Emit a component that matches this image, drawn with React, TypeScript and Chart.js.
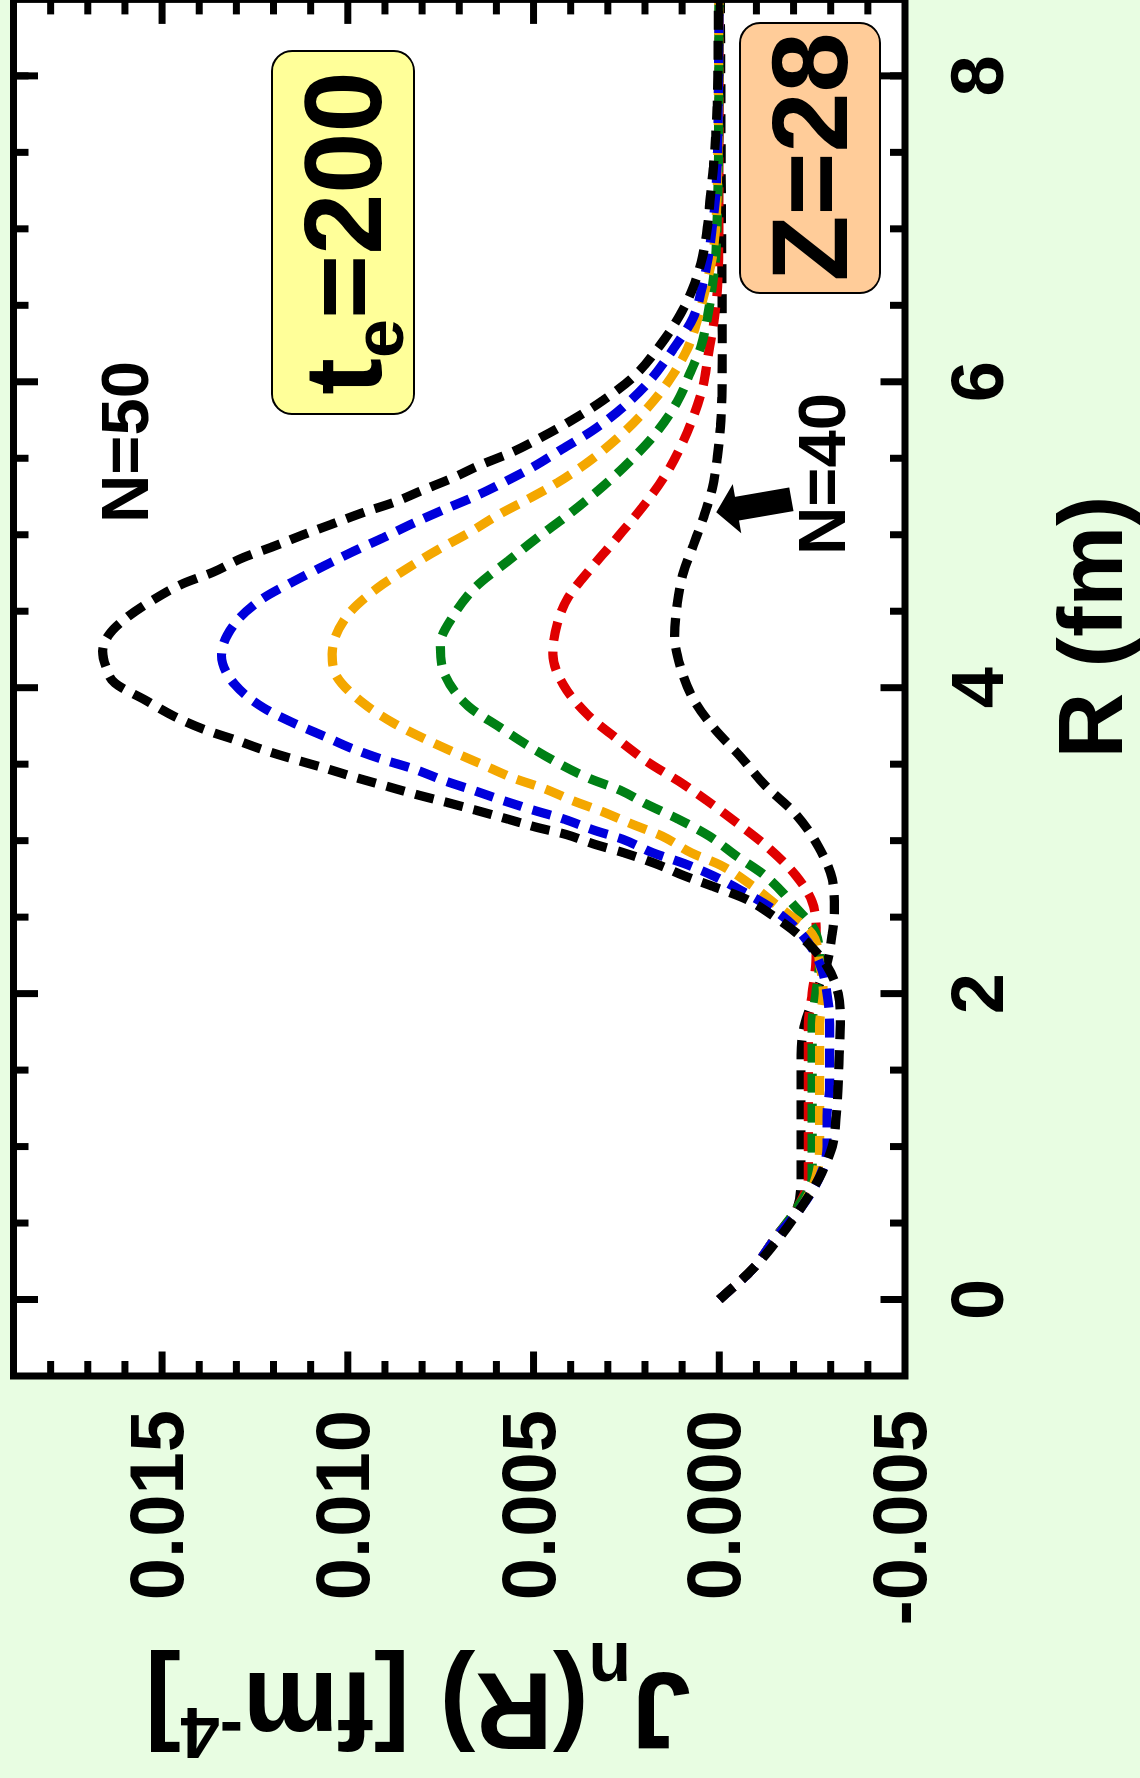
import React, { useEffect, useRef } from "react";
import { Chart, registerables } from "chart.js";

Chart.register(...registerables);

// Unrotated chart canvas (the whole picture is this chart turned 90° counter-clockwise)
const W0 = 1782;
const H0 = 1140;
const PAGE_H = 1778;
const BG = "#e8fde2";
const FONT = "'Liberation Sans', Arial, Helvetica, sans-serif";

// Axis ranges and ticks
const rMin = -0.5;
const rMax = 8.5;
const jMin = -0.005;
const jMax = 0.019;
const rMajorTicks = [0, 2, 4, 6, 8];
const rTickLabels = ["0", "2", "4", "6", "8"];
const rMinorTicks = [0.5, 1, 1.5, 2.5, 3, 3.5, 4.5, 5, 5.5, 6.5, 7, 7.5, 8];
const jMajorTicks = [0.015, 0.01, 0.005, 0.0, -0.005];
const jTickLabels = ["0.015", "0.010", "0.005", "0.000", "-0.005"];
const jMinorTicks = [0.018, 0.017, 0.016, 0.014, 0.013, 0.012, 0.011, 0.009, 0.008, 0.007, 0.006,
  0.004, 0.003, 0.002, 0.001, -0.001, -0.002, -0.003, -0.004];

// Series (N = 50 ... 40)
const seriesLabels = ["N=50", "N=48", "N=46", "N=44", "N=42", "N=40"];
const seriesColors = ["#000000", "#0000dc", "#f4a700", "#008015", "#e00000", "#000000"];

const rN50 = [0, 0.2, 0.4, 0.6, 0.8, 1.0, 1.2, 1.4, 1.6, 1.8, 2.0, 2.18, 2.35, 2.5, 2.62, 2.7, 2.77, 2.85, 2.92, 2.98, 3.04, 3.09, 3.14, 3.2, 3.25, 3.3, 3.355, 3.41, 3.47, 3.53, 3.59, 3.66, 3.72, 3.81, 3.92, 4.03, 4.13, 4.24, 4.34, 4.44, 4.57, 4.68, 4.755, 4.85, 4.92, 5.0, 5.07, 5.15, 5.21, 5.29, 5.37, 5.45, 5.54, 5.64, 5.75, 5.88, 6.03, 6.24, 6.44, 6.62, 6.81, 7.01, 7.21, 7.4, 7.6, 7.8, 8.0, 8.5];
const jN50 = [0, -0.0009, -0.0016, -0.0022, -0.0027, -0.00304, -0.00315, -0.0032, -0.00323, -0.00326, -0.0032, -0.0029, -0.0023, -0.0015, -0.0007, 0.00016, 0.00094, 0.00172, 0.00256, 0.0034, 0.00412, 0.00496, 0.00568, 0.00657, 0.00733, 0.00813, 0.00894, 0.00975, 0.01056, 0.01142, 0.01223, 0.01304, 0.01379, 0.01465, 0.01546, 0.01627, 0.0165, 0.0166, 0.01645, 0.01605, 0.01527, 0.01444, 0.01363, 0.01282, 0.01204, 0.0112, 0.01042, 0.00953, 0.00878, 0.008, 0.00719, 0.00649, 0.00558, 0.00477, 0.00396, 0.00312, 0.00232, 0.00159, 0.00105, 0.0007, 0.00046, 0.00032, 0.00024, 0.00016, 0.0001, 0.00006, 0.00004, 0.00002];

const rN48 = [0, 0.2, 0.4, 0.6, 0.8, 1.0, 1.2, 1.4, 1.6, 1.8, 2.0, 2.2, 2.4, 2.56, 2.67, 2.77, 2.85, 2.92, 3.01, 3.07, 3.14, 3.2, 3.26, 3.33, 3.39, 3.47, 3.53, 3.6, 3.68, 3.77, 3.87, 4.02, 4.21, 4.42, 4.58, 4.69, 4.79, 4.89, 4.98, 5.075, 5.16, 5.245, 5.34, 5.44, 5.56, 5.68, 5.83, 6.01, 6.21, 6.42, 6.62, 6.81, 7.01, 7.21, 7.5, 8.0, 8.5];
const jN48 = [0, -0.0009, -0.0015, -0.0022, -0.0027, -0.0029, -0.0029, -0.00297, -0.00297, -0.00297, -0.0029, -0.0027, -0.00218, -0.0014, -0.00062, 0.00016, 0.00094, 0.00178, 0.00261, 0.00339, 0.00417, 0.00501, 0.00579, 0.00663, 0.00738, 0.00824, 0.00905, 0.00986, 0.01061, 0.01147, 0.01228, 0.01304, 0.0134, 0.01304, 0.01231, 0.0115, 0.01069, 0.00986, 0.00905, 0.00824, 0.00746, 0.00663, 0.00582, 0.00504, 0.00423, 0.00342, 0.00261, 0.00186, 0.00125, 0.0007, 0.00046, 0.0003, 0.00019, 0.0001, 0.00005, 0.00002, 0.00001];

const rN46 = [0, 0.2, 0.4, 0.6, 0.8, 1.0, 1.2, 1.4, 1.6, 1.8, 2.0, 2.2, 2.39, 2.56, 2.71, 2.84, 2.92, 3.03, 3.11, 3.19, 3.26, 3.34, 3.41, 3.5, 3.58, 3.67, 3.77, 3.9, 4.07, 4.22, 4.47, 4.65, 4.78, 4.9, 5.01, 5.13, 5.23, 5.34, 5.47, 5.63, 5.81, 6.02, 6.22, 6.42, 6.6, 6.81, 7.0, 7.3, 8.0, 8.5];
const jN46 = [0, -0.0009, -0.0015, -0.0022, -0.0026, -0.0027, -0.0027, -0.0027, -0.0027, -0.0027, -0.0028, -0.0027, -0.0025, -0.00164, -0.00086, -0.00003, 0.00075, 0.00154, 0.00237, 0.00315, 0.00393, 0.00471, 0.00555, 0.0064, 0.00716, 0.00797, 0.00878, 0.00959, 0.01029, 0.01042, 0.01002, 0.00921, 0.0084, 0.00759, 0.00676, 0.00595, 0.00517, 0.00436, 0.00356, 0.00275, 0.002, 0.00132, 0.00085, 0.00057, 0.00038, 0.00019, 0.0001, 0.00005, 0.00002, 0.00001];

const rN44 = [0, 0.2, 0.4, 0.6, 0.8, 1.0, 1.2, 1.4, 1.6, 1.8, 2.0, 2.2, 2.39, 2.58, 2.77, 2.9, 3.03, 3.14, 3.24, 3.33, 3.41, 3.51, 3.62, 3.74, 3.88, 4.08, 4.28, 4.47, 4.66, 4.83, 4.98, 5.13, 5.29, 5.47, 5.66, 5.87, 6.06, 6.24, 6.42, 6.62, 6.81, 7.1, 7.5, 8.5];
const jN44 = [0, -0.0009, -0.0015, -0.0021, -0.0025, -0.0025, -0.0025, -0.0025, -0.0025, -0.0025, -0.0026, -0.0027, -0.00261, -0.002, -0.00124, -0.00046, 0.00027, 0.0011, 0.00197, 0.00267, 0.00353, 0.00436, 0.00514, 0.0059, 0.00676, 0.00738, 0.00751, 0.00716, 0.00655, 0.00568, 0.0049, 0.00407, 0.00326, 0.00245, 0.00172, 0.00113, 0.00078, 0.00048, 0.00032, 0.00019, 0.0001, 0.00005, 0.00002, 0.00001];

const rN42 = [0, 0.2, 0.4, 0.6, 0.8, 1.0, 1.2, 1.4, 1.6, 1.8, 2.0, 2.2, 2.39, 2.6, 2.77, 2.96, 3.11, 3.26, 3.39, 3.51, 3.66, 3.82, 4.02, 4.22, 4.42, 4.59, 4.79, 4.98, 5.18, 5.39, 5.57, 5.77, 5.96, 6.17, 6.37, 6.58, 6.8, 7.2, 8.5];
const jN42 = [0, -0.0009, -0.0015, -0.0021, -0.0024, -0.0024, -0.0024, -0.0024, -0.0024, -0.0024, -0.0025, -0.0026, -0.00261, -0.0025, -0.00207, -0.00129, -0.00051, 0.00032, 0.0011, 0.0019, 0.00272, 0.00353, 0.0042, 0.00448, 0.00436, 0.00407, 0.00342, 0.00275, 0.00207, 0.00145, 0.00105, 0.0007, 0.00045, 0.0003, 0.00016, 0.00006, 0.00002, 0.00001, 0];

const rN40 = [0, 0.2, 0.4, 0.6, 0.8, 1.0, 1.2, 1.4, 1.6, 1.8, 2.0, 2.2, 2.39, 2.55, 2.75, 2.96, 3.17, 3.36, 3.55, 3.74, 3.94, 4.14, 4.34, 4.55, 4.75, 4.93, 5.11, 5.3, 5.51, 5.7, 5.9, 6.3, 7.0, 8.0, 8.5];
const jN40 = [0, -0.0009, -0.0015, -0.0021, -0.0022, -0.0022, -0.0022, -0.0022, -0.0022, -0.0023, -0.0026, -0.0029, -0.00304, -0.0031, -0.00304, -0.00267, -0.00207, -0.00124, -0.00057, 0.00016, 0.00073, 0.00105, 0.0012, 0.00113, 0.00097, 0.0007, 0.00043, 0.00019, 0.00005, -0.00003, -0.00007, -0.00008, -0.00006, -0.00004, -0.00003];

const seriesR = [rN50, rN48, rN46, rN44, rN42, rN40];
const seriesJ = [jN50, jN48, jN46, jN44, jN42, jN40];

// Arrow pointing at the N=40 curve (data coordinates: R, J)
const arrowTail = [5.232, -0.00194];
const arrowTip = [5.147, 0.00008];

function roundRect(ctx: CanvasRenderingContext2D, x: number, y: number, w: number, h: number, r: number) {
  ctx.beginPath();
  ctx.moveTo(x + r, y);
  ctx.lineTo(x + w - r, y);
  ctx.arcTo(x + w, y, x + w, y + r, r);
  ctx.lineTo(x + w, y + h - r);
  ctx.arcTo(x + w, y + h, x + w - r, y + h, r);
  ctx.lineTo(x + r, y + h);
  ctx.arcTo(x, y + h, x, y + h - r, r);
  ctx.lineTo(x, y + r);
  ctx.arcTo(x, y, x + r, y, r);
  ctx.closePath();
}

type Run = { t: string; s: number; dy: number };

function runsWidth(ctx: CanvasRenderingContext2D, runs: Run[]) {
  let w = 0;
  for (const r of runs) {
    ctx.font = `bold ${r.s}px ${FONT}`;
    w += ctx.measureText(r.t).width;
  }
  return w;
}

function drawRuns(ctx: CanvasRenderingContext2D, runs: Run[], x: number, y: number) {
  let cx = x;
  for (const r of runs) {
    ctx.font = `bold ${r.s}px ${FONT}`;
    ctx.fillText(r.t, cx, y + r.dy);
    cx += ctx.measureText(r.t).width;
  }
}

const decorPlugin = {
  id: "decor",
  beforeDraw(chart: any) {
    const { ctx, chartArea: a } = chart;
    ctx.save();
    ctx.fillStyle = BG;
    ctx.fillRect(0, 0, chart.width, chart.height);
    ctx.fillStyle = "#ffffff";
    ctx.fillRect(a.left, a.top, a.right - a.left, a.bottom - a.top);
    ctx.restore();
  },
  afterDraw(chart: any) {
    const { ctx, chartArea: a } = chart;
    const xs = chart.scales.x;
    const ys = chart.scales.y;
    ctx.save();
    ctx.strokeStyle = "#000";
    ctx.fillStyle = "#000";
    ctx.lineCap = "butt";

    // ticks (inward, all four sides)
    const major = 24.5;
    const minor = 15;
    ctx.lineWidth = 7;
    const seg = (x1: number, y1: number, x2: number, y2: number) => {
      ctx.beginPath();
      ctx.moveTo(x1, y1);
      ctx.lineTo(x2, y2);
      ctx.stroke();
    };
    const rTick = (r: number, len: number) => {
      const p = xs.getPixelForValue(r);
      seg(p, a.bottom, p, a.bottom - len);
      seg(p, a.top, p, a.top + len);
    };
    const jTick = (j: number, len: number) => {
      const p = ys.getPixelForValue(j);
      seg(a.left, p, a.left + len, p);
      seg(a.right, p, a.right - len, p);
    };
    rMajorTicks.forEach((r) => rTick(r, major));
    rMinorTicks.forEach((r) => rTick(r, minor));
    jMajorTicks.forEach((j) => { if (j > jMin && j < jMax) jTick(j, major); });
    jMinorTicks.forEach((j) => jTick(j, minor));

    // frame
    ctx.lineWidth = 7;
    ctx.strokeRect(a.left, a.top, a.right - a.left, a.bottom - a.top);

    // tick labels
    ctx.textBaseline = "alphabetic";
    ctx.textAlign = "center";
    ctx.font = `bold 74px ${FONT}`;
    rMajorTicks.forEach((r, i) => ctx.fillText(rTickLabels[i], xs.getPixelForValue(r), a.bottom + 98));
    ctx.textAlign = "right";
    ctx.font = `bold 76px ${FONT}`;
    jMajorTicks.forEach((j, i) => ctx.fillText(jTickLabels[i], a.left - 34, ys.getPixelForValue(j) + 21));

    // x title
    ctx.textAlign = "center";
    ctx.font = `bold 91px ${FONT}`;
    ctx.fillText("R (fm)", 1151, 1122);

    // y title (rotated), J_n(R) [fm^-4]
    ctx.textAlign = "left";
    const yRuns: Run[] = [
      { t: "J", s: 110, dy: 0 },
      { t: "n", s: 72, dy: 30 },
      { t: "(R) [fm", s: 110, dy: 0 },
      { t: "-4", s: 72, dy: -35 },
      { t: "]", s: 110, dy: 0 },
    ];
    ctx.save();
    ctx.translate(105, 691);
    ctx.rotate(-Math.PI / 2);
    const yw = runsWidth(ctx, yRuns);
    ctx.scale(546 / yw, 1);
    drawRuns(ctx, yRuns, 0, 0);
    ctx.restore();

    // t_e = 200 box
    ctx.lineWidth = 2;
    roundRect(ctx, 1364, 272, 363, 142, 20);
    ctx.fillStyle = "#ffff99";
    ctx.fill();
    ctx.stroke();
    ctx.fillStyle = "#000";
    const teRuns: Run[] = [
      { t: "t", s: 110, dy: 0 },
      { t: "e", s: 70, dy: 22 },
      { t: "=200", s: 110, dy: 0 },
    ];
    const tw = runsWidth(ctx, teRuns);
    drawRuns(ctx, teRuns, 1545 - tw / 2, 381);

    // Z = 28 box
    roundRect(ctx, 1485, 740, 270, 140, 20);
    ctx.fillStyle = "#ffcc99";
    ctx.fill();
    ctx.stroke();
    ctx.fillStyle = "#000";
    ctx.textAlign = "center";
    ctx.font = `bold 108px ${FONT}`;
    ctx.fillText("Z=28", 1621, 847);

    // N labels
    ctx.font = `bold 67px ${FONT}`;
    ctx.fillText("N=50", 1336, 148);
    ctx.fillText("N=40", 1304, 845);

    // arrow
    const tx = xs.getPixelForValue(arrowTail[0]);
    const ty = ys.getPixelForValue(arrowTail[1]);
    const hx = xs.getPixelForValue(arrowTip[0]);
    const hy = ys.getPixelForValue(arrowTip[1]);
    const L = Math.hypot(hx - tx, hy - ty);
    const dx = (hx - tx) / L;
    const dy = (hy - ty) / L;
    const nx = -dy;
    const ny = dx;
    const headLen = 21;
    const shaftHalf = 12;
    const headHalf = 25;
    const bx = hx - dx * headLen;
    const by = hy - dy * headLen;
    ctx.beginPath();
    ctx.moveTo(tx + nx * shaftHalf, ty + ny * shaftHalf);
    ctx.lineTo(bx + nx * shaftHalf, by + ny * shaftHalf);
    ctx.lineTo(bx + nx * headHalf, by + ny * headHalf);
    ctx.lineTo(hx, hy);
    ctx.lineTo(bx - nx * headHalf, by - ny * headHalf);
    ctx.lineTo(bx - nx * shaftHalf, by - ny * shaftHalf);
    ctx.lineTo(tx - nx * shaftHalf, ty - ny * shaftHalf);
    ctx.closePath();
    ctx.fill();

    ctx.restore();
  },
};

export default function App() {
  const ref = useRef<HTMLCanvasElement>(null);

  useEffect(() => {
    document.body.style.margin = "0";
    document.body.style.background = BG;
    const canvas = ref.current;
    if (!canvas) return;
    const datasets = seriesLabels.map((label, i) => ({
      label,
      data: seriesR[i].map((r, k) => ({ x: r, y: seriesJ[i][k] })),
      borderColor: seriesColors[i],
      backgroundColor: seriesColors[i],
      borderWidth: 9.2,
      borderDash: [19, 11],
      borderCapStyle: "butt" as const,
      borderJoinStyle: "bevel" as const,
      pointRadius: 0,
      fill: false,
      cubicInterpolationMode: "monotone" as const,
    }));
    const chart = new Chart(canvas, {
      type: "line",
      data: { datasets },
      options: {
        animation: false,
        responsive: false,
        devicePixelRatio: 1,
        layout: { padding: { top: 13.5, right: W0 - 1778.6, left: 0, bottom: 0 } },
        plugins: { legend: { display: false }, tooltip: { enabled: false }, title: { display: false } },
        scales: {
          x: {
            type: "linear",
            min: rMin,
            max: rMax,
            ticks: { display: false },
            grid: { display: false },
            border: { display: false },
            afterFit: (s: any) => { s.height = H0 - 905; },
          },
          y: {
            type: "linear",
            min: jMin,
            max: jMax,
            ticks: { display: false },
            grid: { display: false },
            border: { display: false },
            afterFit: (s: any) => { s.width = 402; },
          },
        },
      },
      plugins: [decorPlugin],
    });
    return () => chart.destroy();
  }, []);

  return (
    <div
      style={{
        position: "fixed",
        left: 0,
        top: 0,
        width: W0,
        height: H0,
        transformOrigin: "0 0",
        transform: `translateY(${PAGE_H}px) rotate(-90deg)`,
      }}
    >
      <canvas ref={ref} width={W0} height={H0} style={{ display: "block", width: W0, height: H0 }} />
    </div>
  );
}
